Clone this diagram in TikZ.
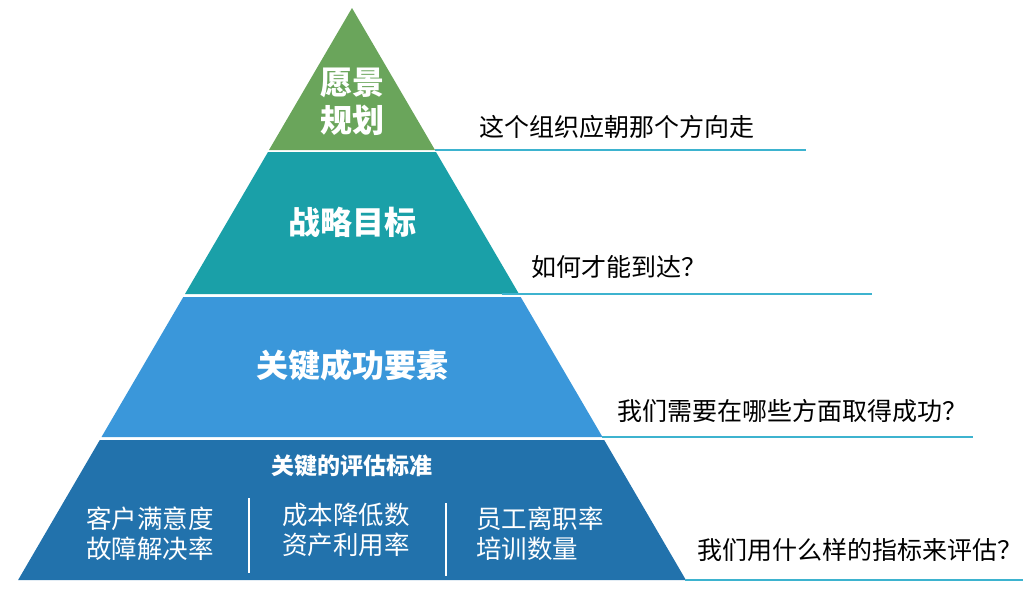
\documentclass[tikz,border=0pt]{standalone}
\usepackage{fontspec}
\setmainfont{Noto Sans CJK SC}
\usetikzlibrary{positioning,calc}
\definecolor{visiongreen}{HTML}{6AA55B}
\definecolor{goalteal}{HTML}{1AA0A8}
\definecolor{factorblue}{HTML}{3A97DA}
\definecolor{measureblue}{HTML}{2272AC}
\definecolor{guidecyan}{HTML}{3DB3CF}
\tikzset{
  title/.style={text=white, font=\fontsize{32}{38}\selectfont\bfseries, align=center},
  subtitle/.style={text=white, font=\fontsize{23}{26}\selectfont\bfseries},
  item/.style={text=white, font=\fontsize{25.5}{30}\selectfont, align=left},
  question/.style={text=black, font=\fontsize{25}{28}\selectfont, anchor=base west},
  guide/.style={guidecyan, line width=1.3pt},
  divider/.style={white, line width=1.2pt},
}
\begin{document}
\begin{tikzpicture}[x=1pt, y=-1pt]
  \useasboundingbox (0,0) rectangle (1023,592);
  % pyramid tiers
  \fill[visiongreen] (352,8) -- (435,150) -- (269,150) -- cycle;
  \fill[goalteal] (268,152) -- (436,152) -- (519,294) -- (185,294) -- cycle;
  \fill[factorblue] (183.3,297) -- (520.7,297) -- (602.5,437) -- (101.5,437) -- cycle;
  \fill[measureblue] (99.8,440) -- (604.2,440) -- (685.9,580) -- (18.1,580) -- cycle;
  % guide lines
  \draw[guide] (435,150) -- (806,150);
  \draw[guide] (502,294) -- (872,294);
  \draw[guide] (602,437) -- (973,437);
  \draw[guide] (685,580) -- (1023,580);
  % labels inside
  \node[title] (vision) at (352,102) {愿景\\规划};
  \node[title] (goals) at (352,222) {战略目标};
  \node[title] (factors) at (352,365) {关键成功要素};
  \node[subtitle] (measures) at (352,466) {关键的评估标准};
  \node[item] (customer) at (150,534) {客户满意度\\故障解决率};
  \node[item] (cost) at (346,530) {成本降低数\\资产利用率};
  \node[item] (staff) at (540,534) {员工离职率\\培训数量};
  \draw[divider] (249,498) -- (249,573);
  \draw[divider] (446,503) -- (446,576);
  % questions
  \node[question] (whereto) at (476,136) {这个组织应朝那个方向走};
  \node[question] (howto) at (528,276) {如何才能到达？};
  \node[question] (succeed) at (614,420) {我们需要在哪些方面取得成功？};
  \node[question] (evaluate) at (694,559) {我们用什么样的指标来评估？};
\end{tikzpicture}
\end{document}
